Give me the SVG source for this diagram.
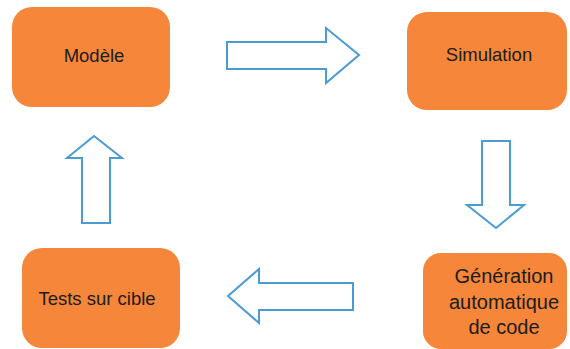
<svg xmlns="http://www.w3.org/2000/svg" width="570" height="349" viewBox="0 0 570 349">
  <style>
    .box { fill: #F5863A; }
    .label { font-family: "Liberation Sans", Arial, sans-serif; font-size: 18.5px; fill: #1c1c1c; text-anchor: middle; }
    .big { font-size: 20px; }
    .arrow { fill: #ffffff; stroke: #4A9BD3; stroke-width: 2; stroke-linejoin: miter; }
  </style>
  <rect width="570" height="349" fill="#ffffff"/>

  <g id="modele">
    <rect class="box" x="12" y="7" width="158" height="100" rx="20"/>
    <text class="label" x="94" y="62">Modèle</text>
  </g>

  <g id="simulation">
    <rect class="box" x="407" y="12" width="160" height="98" rx="20"/>
    <text class="label" x="489" y="61">Simulation</text>
  </g>

  <g id="generation">
    <rect class="box" x="423" y="253" width="144" height="96" rx="18"/>
    <text class="label big" x="504" y="283">Génération</text>
    <text class="label big" x="504" y="309">automatique</text>
    <text class="label big" x="504" y="334">de code</text>
  </g>

  <g id="tests">
    <rect class="box" x="22" y="248" width="158" height="100" rx="20"/>
    <text class="label" x="97" y="305">Tests sur cible</text>
  </g>

  <g id="connectors">
    <!-- right: Modèle to Simulation -->
    <polygon class="arrow" points="227,42 326,42 326,28 359,55 326,83 326,69 227,69"/>
    <!-- down: Simulation to Génération -->
    <polygon class="arrow" points="482,141 510,141 510,205 524,205 496,228 467,205 482,205"/>
    <!-- left: Génération to Tests -->
    <polygon class="arrow" points="353,283 259,283 259,269 228,296 259,323 259,310 353,310"/>
    <!-- up: Tests to Modèle -->
    <polygon class="arrow" points="82,223 110,223 110,158 122,158 94,136 67,158 82,158"/>
  </g>
</svg>
